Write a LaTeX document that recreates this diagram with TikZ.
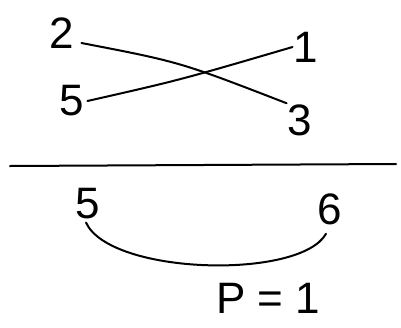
\documentclass[tikz,border=0pt]{standalone}
\usepackage{fontspec}
\setmainfont{Liberation Sans}
\begin{document}
\begin{tikzpicture}[x=1pt,y=-1pt,
  lbl/.style={font=\fontsize{44}{44}\selectfont, inner sep=1pt},
  ink/.style={line width=2pt, line cap=round}]
\useasboundingbox (0,0) rectangle (401,327);
\node[lbl] (n2) at (62,33) {2};
\node[lbl] (n1) at (306,47) {1};
\node[lbl] (n5) at (72,101) {5};
\node[lbl] (n3) at (300,120) {3};
\node[lbl] (m5) at (88,204) {5};
\node[lbl] (m6) at (330,209) {6};
\node[lbl] (p) at (268,298) {P = 1};
\coordinate (hl) at (10,166);
\coordinate (hr) at (396,164);
\draw[ink] (n2.east) ++(6,10) coordinate (a1);
\draw[ink] (a1) .. controls (180,62) .. (n3.north west);
\draw[ink] (n5.east) ++(2,0) coordinate (b1);
\draw[ink] (b1) .. controls (180,80) .. (n1.west);
\draw[ink] (hl) -- (hr);
\draw[ink] (m5.south) ++(-2,2) coordinate (c1);
\draw[ink] (m6.south) ++(-4,8) coordinate (c2);
\draw[ink] (c1) .. controls (110,275) and (300,280) .. (c2);
\end{tikzpicture}
\end{document}
